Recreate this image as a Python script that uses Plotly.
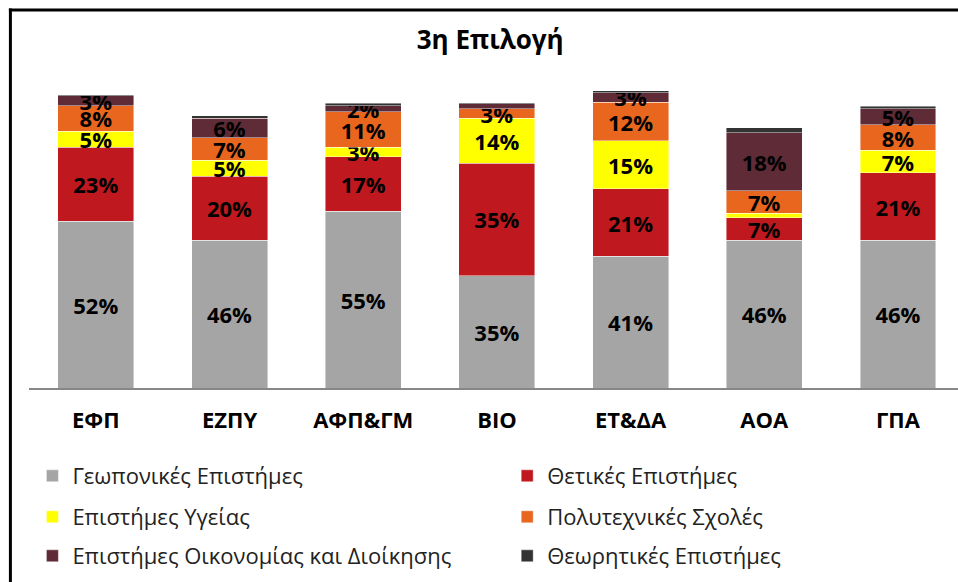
import plotly.graph_objects as go

categories = ["ΕΦΠ", "ΕΖΠΥ", "ΑΦΠ&ΓΜ", "ΒΙΟ", "ΕΤ&ΔΑ", "ΑΟΑ", "ΓΠΑ"]

geoponikes = [52, 46, 55, 35, 41, 46, 46]
thetikes = [23, 20, 17, 35, 21, 7, 21]
ygeias = [5, 5, 3, 14, 15, 1.5, 7]
polytechnikes = [8, 7, 11, 3, 12, 7, 8]
oikonomias = [3, 6, 2, 1.5, 3, 18, 5]
theoritikes = [0.4, 0.8, 0.7, 0.4, 0.6, 1.6, 0.7]

series_names = [
    "Γεωπονικές Επιστήμες",
    "Θετικές Επιστήμες",
    "Επιστήμες Υγείας",
    "Πολυτεχνικές Σχολές",
    "Επιστήμες Οικονομίας και Διοίκησης",
    "Θεωρητικές Επιστήμες",
]
series_values = [geoponikes, thetikes, ygeias, polytechnikes, oikonomias, theoritikes]
series_colors = ["#A5A5A5", "#C0181F", "#FFFF00", "#E9661E", "#5E2B36", "#333333"]

FONT = "Open Sans"

# body margin is removed below, so the figure fills the page from (0, 0)
OFF = 0
W, H = 958, 582
# plot area in page pixels: x 28.6..958, y 67..388
L, R, T, B = 28.6, 0, 67, 582 - 388
pw = W - L - R
ph = H - T - B

def ly(ypage):
    return (H - B - (ypage - OFF)) / ph

def lx(xpage):
    return (xpage - OFF - L) / pw

# legend placement (page px), one legend per entry
legend_pos = [(32, 476), (507, 476), (32, 517), (507, 517), (32, 556), (507, 556)]
legend_ids = ["legend"] + [f"legend{i}" for i in range(2, 7)]

fig = go.Figure()
for name, vals, col, lg in zip(series_names, series_values, series_colors, legend_ids):
    labels = [f"{v:.0f}%" if v >= 2 else "" for v in vals]
    fig.add_trace(go.Bar(
        x=categories, y=vals, name=name,
        marker=dict(color=col, line=dict(color="rgba(255,255,255,0.55)", width=0.8)),
        text=labels, textposition="inside", insidetextanchor="middle",
        textangle=0, constraintext="none",
        insidetextfont=dict(family=FONT, size=22, color="black", weight="bold"),
        legend=lg, hoverinfo="skip",
    ))

legend_layout = {}
for lg, (px, py) in zip(legend_ids, legend_pos):
    legend_layout[lg] = dict(
        orientation="h", xanchor="left", yanchor="middle",
        x=lx(px), y=ly(py),
        font=dict(family=FONT, size=22, color="#222222"),
        bgcolor="rgba(0,0,0,0)",
    )

border = dict(color="black", width=3)

fig.update_layout(
    width=W, height=H,
    margin=dict(l=L, r=R, t=T, b=B, autoexpand=False),
    barmode="stack", bargap=0.432,
    plot_bgcolor="white", paper_bgcolor="white",
    showlegend=True,
    uniformtext=dict(minsize=22, mode="show"),
    title=dict(text="<b>3η Επιλογή</b>", x=lx(490), xref="paper", xanchor="center",
               y=1 - 40 / H, yanchor="middle",
               font=dict(family=FONT, size=26, color="black")),
    xaxis=dict(range=[-0.5, 6.449], showline=True, linecolor="#878787", linewidth=2,
               ticks="", showgrid=False, zeroline=False,
               tickfont=dict(family=FONT, size=22, color="black", weight="bold"),
               ticklabelstandoff=12),
    yaxis=dict(range=[0, 100], visible=False, showgrid=False, zeroline=False),
    shapes=[
        dict(type="line", xref="paper", yref="paper",
             x0=lx(10), x1=lx(10), y0=ly(600), y1=ly(8.5), line=border, layer="above"),
        dict(type="line", xref="paper", yref="paper",
             x0=lx(8.5), x1=lx(970), y0=ly(10), y1=ly(10), line=border, layer="above"),
    ],
    **legend_layout,
)

fig.write_html(
    "out.html",
    config={"displayModeBar": False},
    post_script=(
        "document.body.style.margin='0';"
        "document.documentElement.style.overflow='hidden';"
    ),
)
